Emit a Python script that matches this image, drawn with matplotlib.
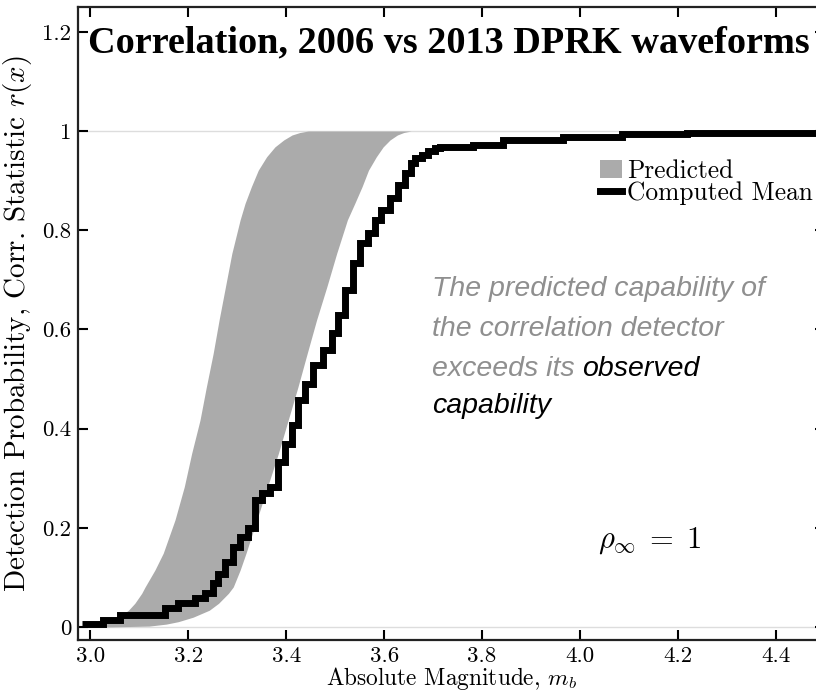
import numpy as np
import matplotlib
matplotlib.use('Agg')
import matplotlib.pyplot as plt
from matplotlib.patches import Patch
from matplotlib.lines import Line2D

# predicted band: left / right magnitude of the shaded region at each probability
band_prob = [0.0, 0.002, 0.006, 0.011, 0.020, 0.034, 0.048, 0.068, 0.081,
             0.115, 0.149, 0.216, 0.283, 0.350, 0.417, 0.484, 0.552, 0.619,
             0.686, 0.753, 0.821, 0.854, 0.888, 0.921, 0.948, 0.968, 0.982,
             0.992, 0.997, 1.0]
band_left = [2.990, 3.000, 3.020, 3.040, 3.058, 3.078, 3.091, 3.105, 3.112,
             3.132, 3.149, 3.173, 3.192, 3.207, 3.224, 3.237, 3.251, 3.263,
             3.276, 3.289, 3.306, 3.316, 3.329, 3.343, 3.360, 3.377, 3.395,
             3.412, 3.428, 3.445]
band_right = [3.020, 3.120, 3.155, 3.180, 3.210, 3.243, 3.262, 3.282, 3.292,
              3.306, 3.318, 3.340, 3.362, 3.384, 3.404, 3.424, 3.443, 3.462,
              3.483, 3.503, 3.525, 3.540, 3.555, 3.568, 3.584, 3.598, 3.612,
              3.627, 3.640, 3.655]

# computed mean (step function, value holds from each mb to the next)
mean_mb = [2.984, 3.027, 3.061, 3.152, 3.180, 3.214, 3.234, 3.251, 3.261,
           3.275, 3.292, 3.306, 3.322, 3.336, 3.350, 3.367, 3.384, 3.397,
           3.411, 3.424, 3.438, 3.455, 3.476, 3.493, 3.506, 3.520, 3.537,
           3.550, 3.567, 3.581, 3.594, 3.612, 3.629, 3.642, 3.655, 3.663,
           3.677, 3.690, 3.704, 3.714, 3.782, 3.843, 3.965, 4.085, 4.218, 4.5]
mean_prob = [0.006, 0.014, 0.024, 0.038, 0.048, 0.058, 0.068, 0.088, 0.108,
             0.132, 0.162, 0.182, 0.199, 0.256, 0.270, 0.283, 0.333, 0.370,
             0.407, 0.458, 0.491, 0.528, 0.558, 0.592, 0.629, 0.679, 0.733,
             0.774, 0.794, 0.821, 0.841, 0.864, 0.891, 0.915, 0.935, 0.946,
             0.952, 0.959, 0.965, 0.968, 0.972, 0.982, 0.988, 0.994, 0.996, 0.996]

xticks = [3.0, 3.2, 3.4, 3.6, 3.8, 4.0, 4.2, 4.4]
xtick_labels = ['3.0', '3.2', '3.4', '3.6', '3.8', '4.0', '4.2', '4.4']
yticks = [0, 0.2, 0.4, 0.6, 0.8, 1.0, 1.2]
ytick_labels = ['0', '0.2', '0.4', '0.6', '0.8', '1', '1.2']

band_color = '#ababab'
note_gray = '#8f8f8f'

plt.rcParams['mathtext.fontset'] = 'cm'
plt.rcParams['font.family'] = 'cmr10'
plt.rcParams['axes.formatter.use_mathtext'] = True

W, H = 816, 692
fig = plt.figure(figsize=(W / 100, H / 100), dpi=100)
ax = fig.add_axes([78 / W, 52 / H, 747 / W, 633 / H])

ax.axhline(0, color='#dddddd', lw=1, zorder=0)
ax.axhline(1, color='#dddddd', lw=1, zorder=0)
ax.fill_betweenx(band_prob, band_left, band_right, color=band_color, lw=0, zorder=1)
ax.step(mean_mb, mean_prob, where='post', color='black', lw=5,
        solid_joinstyle='miter', solid_capstyle='butt', zorder=2)

ax.set_xlim(2.975, 4.5)
ax.set_ylim(-0.026, 1.25)
ax.set_xticks(xticks)
ax.set_xticklabels(xtick_labels)
ax.set_yticks(yticks)
ax.set_yticklabels(ytick_labels)
ax.yaxis.get_ticklabels()[-1].set_fontsize(10)
ax.tick_params(direction='in', top=True, right=True, length=7, width=1.5,
               labelsize=16.5, pad=5)
for sp in ax.spines.values():
    sp.set_linewidth(1.6)
    sp.set_color('#222222')

ax.set_xlabel('Absolute Magnitude, $m_b$', fontsize=16.8, labelpad=-1)
ax.set_ylabel('Detection Probability, Corr. Statistic $r(x)$', fontsize=21, labelpad=6)

fig.text(88 / W, 1 - 52 / H, 'Correlation, 2006 vs 2013 DPRK waveforms',
         family='Liberation Serif', weight='bold', fontsize=27.5, va='baseline')

handles = [Patch(color=band_color, lw=0), Line2D([], [], color='black', lw=5)]
fig.legend(handles, ['Predicted', 'Computed Mean'], loc='upper left',
           bbox_to_anchor=(600 / W, 1 - 159 / H), frameon=False, fontsize=18.3,
           handlelength=0.85, handletextpad=0.2, labelspacing=-0.05, borderpad=0,
           borderaxespad=0)

note = dict(family='Liberation Sans', style='italic', fontsize=20.5, va='baseline')
fig.text(432 / W, 1 - 296 / H, 'The predicted capability of', color=note_gray, **note)
fig.text(432 / W, 1 - 336 / H, 'the correlation detector', color=note_gray, **note)
t = fig.text(432 / W, 1 - 376 / H, 'exceeds its ', color=note_gray, **note)
ax.annotate('observed', xy=(1, 0), xycoords=t, color='black', annotation_clip=False,
            family='Liberation Sans', style='italic', fontsize=20.5, va='bottom')
fig.text(432 / W, 1 - 413 / H, 'capability', color='black', **note)

fig.text(598 / W, 1 - 541 / H, r'$\rho_\infty \;=\; 1$', fontsize=22, va='center')

fig.savefig('out.png', dpi=100)
